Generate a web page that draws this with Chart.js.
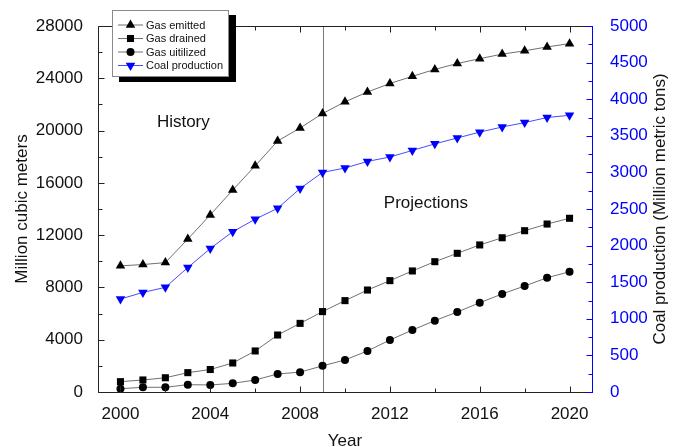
<!DOCTYPE html>
<html>
<head>
<meta charset="utf-8">
<script src="https://cdn.jsdelivr.net/npm/chart.js@4/dist/chart.umd.min.js"></script>
<style>
  html, body { margin: 0; padding: 0; background: #fff; }
  #c { display: block; }
</style>
</head>
<body>
<canvas id="c" width="676" height="447"></canvas>
<script>
// Coal mine methane in China: history (2000-2009) and projections (2009-2020)
const years = [2000, 2001, 2002, 2003, 2004, 2005, 2006, 2007, 2008, 2009, 2010,
               2011, 2012, 2013, 2014, 2015, 2016, 2017, 2018, 2019, 2020];
const gasEmitted = [9650, 9750, 9900, 11700, 13550, 15450, 17300, 19200, 20200, 21300, 22200,
                    22950, 23600, 24150, 24680, 25130, 25500, 25850, 26100, 26400, 26650];
const gasDrained = [790, 920, 1090, 1480, 1720, 2220, 3140, 4360, 5250, 6150, 6990,
                    7800, 8520, 9260, 9970, 10610, 11250, 11800, 12340, 12850, 13290];
const gasUtilized = [250, 360, 360, 560, 540, 660, 920, 1380, 1520, 2000, 2450,
                     3140, 3980, 4740, 5460, 6120, 6830, 7500, 8110, 8740, 9200];
const coalProduction = [1270, 1360, 1430, 1700, 1960, 2190, 2360, 2510, 2780, 3000, 3060,
                        3150, 3210, 3300, 3390, 3470, 3550, 3620, 3680, 3750, 3780];

const yearTicks = [2000, 2004, 2008, 2012, 2016, 2020];
const gasTicks = [0, 4000, 8000, 12000, 16000, 20000, 24000, 28000];
const coalTicks = [0, 500, 1000, 1500, 2000, 2500, 3000, 3500, 4000, 4500, 5000];
const projectionStart = 2009;
const periodLabels = ['History', 'Projections'];

const FONT = '"Liberation Sans", Arial, Helvetica, sans-serif';
const LINE_GRAY = '#707070';
const BLUE = '#0000ff';

const pts = arr => years.map((yr, i) => ({ x: yr, y: arr[i] }));
const midpoints = arr => arr.slice(0, -1).map((v, i) => (v + arr[i + 1]) / 2);

// Frame, inward ticks, divider line, period labels and the boxed legend
const decorations = {
  id: 'decorations',
  beforeDatasetsDraw(chart) {
    const { ctx, chartArea: a, scales } = chart;
    const xv = scales.x.getPixelForValue(projectionStart);
    ctx.save();
    ctx.strokeStyle = '#7a7a7a';
    ctx.lineWidth = 1;
    ctx.beginPath();
    ctx.moveTo(Math.round(xv) + 0.5, a.top);
    ctx.lineTo(Math.round(xv) + 0.5, a.bottom);
    ctx.stroke();
    ctx.restore();
  },
  afterDatasetsDraw(chart) {
    const { ctx, chartArea: a, scales } = chart;
    const L = Math.round(a.left) + 0.5, R = Math.round(a.right) + 0.5;
    const T = Math.round(a.top) + 0.5, B = Math.round(a.bottom) + 0.5;
    ctx.save();
    ctx.lineWidth = 1;

    // black frame: left, bottom, top
    ctx.strokeStyle = '#222';
    ctx.beginPath();
    ctx.moveTo(R, T); ctx.lineTo(L, T); ctx.lineTo(L, B); ctx.lineTo(R, B);
    ctx.stroke();

    // x ticks (bottom and top, pointing inward)
    const xTick = (v, len) => {
      const px = Math.round(scales.x.getPixelForValue(v)) + 0.5;
      ctx.moveTo(px, B); ctx.lineTo(px, B - len);
      ctx.moveTo(px, T); ctx.lineTo(px, T + len);
    };
    ctx.beginPath();
    yearTicks.forEach(v => xTick(v, 6));
    midpoints(yearTicks).forEach(v => xTick(v, 4));
    // left axis ticks
    const yTick = (v, len) => {
      const py = Math.round(scales.y.getPixelForValue(v)) + 0.5;
      ctx.moveTo(L, py); ctx.lineTo(L + len, py);
    };
    gasTicks.forEach(v => yTick(v, 6));
    midpoints(gasTicks).forEach(v => yTick(v, 4));
    ctx.stroke();

    // blue right axis
    ctx.strokeStyle = BLUE;
    ctx.beginPath();
    ctx.moveTo(R, T - 0.5); ctx.lineTo(R, B + 0.5);
    const y2Tick = (v, len) => {
      const py = Math.round(scales.y2.getPixelForValue(v)) + 0.5;
      ctx.moveTo(R, py); ctx.lineTo(R - len, py);
    };
    coalTicks.forEach(v => y2Tick(v, 6));
    midpoints(coalTicks).forEach(v => y2Tick(v, 4));
    ctx.stroke();

    // period labels
    ctx.fillStyle = '#111';
    ctx.font = '17px ' + FONT;
    ctx.textAlign = 'center';
    ctx.textBaseline = 'middle';
    ctx.fillText(periodLabels[0], scales.x.getPixelForValue(2002.8), scales.y.getPixelForValue(20600));
    ctx.fillText(periodLabels[1], scales.x.getPixelForValue(2013.6), scales.y.getPixelForValue(14400));

    // right axis title, reading bottom to top
    ctx.save();
    ctx.translate(660, (a.top + a.bottom) / 2);
    ctx.rotate(-Math.PI / 2);
    ctx.fillStyle = '#111';
    ctx.font = '17px ' + FONT;
    ctx.fillText('Coal production (Million metric tons)', 0, 0);
    ctx.restore();
    ctx.restore();
  },
  afterDraw(chart) {
    const { ctx } = chart;
    const box = { x: 112, y: 10, w: 117, h: 67 };
    ctx.save();
    ctx.fillStyle = '#000';
    ctx.fillRect(box.x + 7, box.y + 5, box.w, box.h);
    ctx.fillStyle = '#fff';
    ctx.fillRect(box.x, box.y, box.w, box.h);
    ctx.strokeStyle = '#8a8a8a';
    ctx.lineWidth = 1;
    ctx.strokeRect(box.x + 0.5, box.y + 0.5, box.w - 1, box.h - 1);

    chart.data.datasets.forEach((ds, i) => {
      const ry = 25 + i * 13.5;
      ctx.strokeStyle = ds.borderColor;
      ctx.lineWidth = 1;
      ctx.beginPath();
      ctx.moveTo(118, ry); ctx.lineTo(143, ry);
      ctx.stroke();
      ctx.fillStyle = ds.pointBackgroundColor;
      ctx.strokeStyle = ds.pointBackgroundColor;
      Chart.helpers.drawPoint(ctx, {
        pointStyle: ds.pointStyle,
        rotation: ds.pointRotation || 0,
        radius: ds.pointRadius,
        borderWidth: 0
      }, 130.5, ry);
      ctx.fillStyle = '#111';
      ctx.font = '11px ' + FONT;
      ctx.textAlign = 'left';
      ctx.textBaseline = 'middle';
      ctx.fillText(ds.label, 146, ry + 0.5);
    });
    ctx.restore();
  }
};

const series = (label, arr, axis, style, radius, color, lineColor, rotation) => ({
  label, data: pts(arr), yAxisID: axis,
  borderColor: lineColor, borderWidth: 1, tension: 0,
  pointStyle: style, pointRadius: radius, pointRotation: rotation || 0,
  pointBackgroundColor: color, pointBorderColor: color, pointBorderWidth: 0,
  pointHoverRadius: radius
});

new Chart(document.getElementById('c'), {
  type: 'line',
  data: {
    datasets: [
      series('Gas emitted', gasEmitted, 'y', 'triangle', 5.5, '#000', LINE_GRAY),
      series('Gas drained', gasDrained, 'y', 'rect', 5, '#000', LINE_GRAY),
      series('Gas uitilized', gasUtilized, 'y', 'circle', 4, '#000', LINE_GRAY),
      series('Coal production', coalProduction, 'y2', 'triangle', 5.5, BLUE, '#4a4aff', 180)
    ]
  },
  options: {
    responsive: false,
    animation: false,
    events: [],
    layout: { padding: { top: 26, left: 0, right: 0, bottom: 0 } },
    plugins: { legend: { display: false }, tooltip: { enabled: false } },
    scales: {
      x: {
        type: 'linear', min: 1999, max: 2021,
        afterBuildTicks: s => { s.ticks = yearTicks.map(v => ({ value: v })); },
        afterFit: s => { s.height = 55; },
        grid: { display: false },
        border: { display: false },
        ticks: {
          font: { family: FONT, size: 17 }, color: '#111', padding: 4,
          autoSkip: false, maxRotation: 0, callback: v => String(v)
        },
        title: {
          display: true, text: 'Year', color: '#111',
          font: { family: FONT, size: 17 }, padding: { top: 0, bottom: -5 }
        }
      },
      y: {
        type: 'linear', position: 'left', min: 0, max: 28000,
        afterBuildTicks: s => { s.ticks = gasTicks.map(v => ({ value: v })); },
        afterFit: s => { s.width = 98; },
        grid: { display: false },
        border: { display: false },
        ticks: { font: { family: FONT, size: 17 }, color: '#111', padding: 7, callback: v => String(v) },
        title: {
          display: true, text: 'Million cubic meters', color: '#111',
          font: { family: FONT, size: 17 }, padding: { top: 12, bottom: 0 }
        }
      },
      y2: {
        type: 'linear', position: 'right', min: 0, max: 5000,
        afterBuildTicks: s => { s.ticks = coalTicks.map(v => ({ value: v })); },
        afterFit: s => { s.width = 84; },
        grid: { display: false },
        border: { display: false },
        ticks: { font: { family: FONT, size: 17 }, color: BLUE, padding: 10, callback: v => String(v) }
      }
    }
  },
  plugins: [decorations]
});
</script>
</body>
</html>
